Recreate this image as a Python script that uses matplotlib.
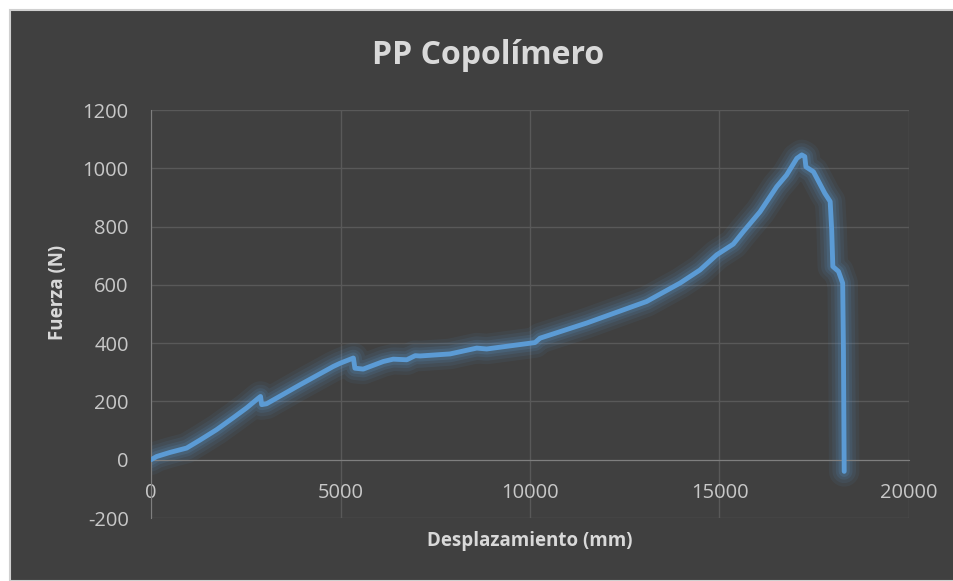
import matplotlib.pyplot as plt
from matplotlib.patches import Rectangle

# data
desplazamiento = [0, 150, 500, 940, 1300, 1730, 2170, 2525, 2830, 2890, 2920, 3050,
                  3930, 4810, 4990, 5340, 5380, 5600, 6130, 6390, 6750, 6970, 7100,
                  7890, 8594, 8857, 10132, 10264, 11496, 13079, 13958, 14485, 14926,
                  15365, 15630, 16070, 16510, 16770, 17040, 17170, 17250, 17280, 17480,
                  17780, 17920, 17960, 17990, 18140, 18250, 18270, 18290]
fuerza = [0, 11, 25, 40, 68, 103, 144, 178, 211, 217, 189, 192,
          257, 320, 331, 349, 314, 311, 337, 345, 343, 357, 356,
          363, 383, 380, 402, 417, 469, 543, 606, 651, 703,
          740, 783, 851, 937, 977, 1034, 1046, 1040, 1005, 988,
          914, 886, 789, 663, 646, 606, 377, -40]

bg = '#404040'
txt = '#D9D9D9'
azul = '#5B9BD5'

plt.rcParams['font.family'] = ['Open Sans', 'DejaVu Sans']
plt.rcParams['axes.unicode_minus'] = False

fig = plt.figure(figsize=(9.54, 5.81), dpi=100, facecolor='white')
fig.patches.append(Rectangle((10 / 954, 0), 1, 1 - 10 / 581, transform=fig.transFigure,
                             facecolor=bg, edgecolor='#D0D0D0', linewidth=1.5, zorder=-5))

ax = fig.add_axes([151 / 954, 1 - 518 / 581, 758 / 954, 408 / 581])
ax.set_facecolor(bg)

# soft glow around the line
for lw, a in [(22, 0.07), (17, 0.09), (12, 0.12), (8, 0.16)]:
    ax.plot(desplazamiento, fuerza, color=azul, lw=lw, alpha=a,
            solid_capstyle='round', solid_joinstyle='round')
ax.plot(desplazamiento, fuerza, color=azul, lw=3.5, solid_capstyle='round',
        solid_joinstyle='round', zorder=5)

ax.set_xlim(0, 20000)
ax.set_ylim(-200, 1200)
ax.set_xticks(range(0, 20001, 5000))
ax.set_yticks(range(-200, 1201, 200))
ax.grid(True, color='#595959', lw=1)
ax.set_axisbelow(True)

for s in ['top', 'right']:
    ax.spines[s].set_visible(False)
ax.spines['bottom'].set_position(('data', 0))
ax.spines['bottom'].set_color('#7F7F7F')
ax.spines['left'].set_color('#7F7F7F')
ax.tick_params(length=0, colors='#C8C8C8', labelsize=14.5)
ax.tick_params(axis='y', pad=16)
ax.tick_params(axis='x', pad=17)

fig.text(488 / 954, 1 - 56 / 581, 'PP Copolímero', color=txt, fontsize=23,
         fontweight='bold', ha='center', va='center')
fig.text(530 / 954, 1 - 541 / 581, 'Desplazamiento (mm)', color=txt, fontsize=13.5,
         fontweight='bold', ha='center', va='center')
fig.text(58 / 954, 1 - 292 / 581, 'Fuerza (N)', color=txt, fontsize=13.5,
         fontweight='bold', ha='center', va='center', rotation=90)

fig.savefig('out.png', dpi=100, facecolor='white')
